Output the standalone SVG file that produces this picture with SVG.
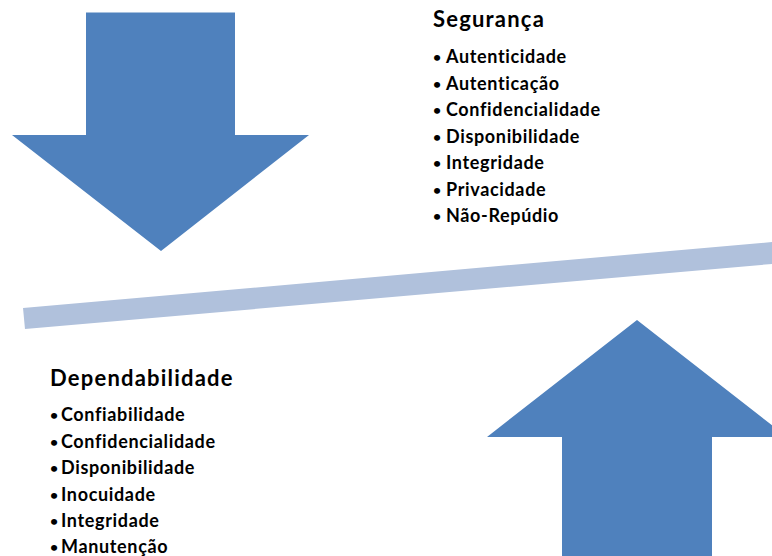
<svg xmlns="http://www.w3.org/2000/svg" width="772" height="556" viewBox="0 0 772 556">
<style>
.arrow{fill:#4F81BD}
.bar{fill:#B0C1DC}
.title{font-family:Lato,"Liberation Sans",sans-serif;font-weight:bold;font-size:22px;letter-spacing:1.2px;fill:#000;font-variant-ligatures:none}
.item{font-family:Lato,"Liberation Sans",sans-serif;font-weight:bold;font-size:18px;letter-spacing:0.65px;fill:#000;font-variant-ligatures:none}
.dot{font-size:14px}
</style>
<rect width="772" height="556" fill="#fff"/>
<g id="down-arrow">
<polygon class="arrow" points="86,12.5 235,12.5 235,135 309,135 161,251 12,135 86,135"/>
</g>
<g id="up-arrow">
<polygon class="arrow" points="637,320 787,437 712,437 712,556 562,556 562,437 487,437"/>
</g>
<g id="balance-bar">
<polygon class="bar" points="23,308 772,242 772,264 25,329"/>
</g>
<g id="seguranca">
<text class="title" x="433" y="27">Segurança</text>
<text class="item"><tspan class="dot" x="433" y="62">•</tspan><tspan x="446" y="63">Autenticidade</tspan></text>
<text class="item"><tspan class="dot" x="433" y="88.5">•</tspan><tspan x="446" y="89.5">Autenticação</tspan></text>
<text class="item"><tspan class="dot" x="433" y="115">•</tspan><tspan x="446" y="116">Confidencialidade</tspan></text>
<text class="item"><tspan class="dot" x="433" y="141.5">•</tspan><tspan x="446" y="142.5">Disponibilidade</tspan></text>
<text class="item"><tspan class="dot" x="433" y="168">•</tspan><tspan x="446" y="169">Integridade</tspan></text>
<text class="item"><tspan class="dot" x="433" y="194.5">•</tspan><tspan x="446" y="195.5">Privacidade</tspan></text>
<text class="item"><tspan class="dot" x="433" y="221">•</tspan><tspan x="446" y="222">Não-Repúdio</tspan></text>
</g>
<g id="dependabilidade">
<text class="title" x="50" y="386">Dependabilidade</text>
<text class="item"><tspan class="dot" x="50" y="420">•</tspan><tspan x="61" y="421">Confiabilidade</tspan></text>
<text class="item"><tspan class="dot" x="50" y="446.5">•</tspan><tspan x="61" y="447.5">Confidencialidade</tspan></text>
<text class="item"><tspan class="dot" x="50" y="473">•</tspan><tspan x="61" y="474">Disponibilidade</tspan></text>
<text class="item"><tspan class="dot" x="50" y="499.5">•</tspan><tspan x="61" y="500.5">Inocuidade</tspan></text>
<text class="item"><tspan class="dot" x="50" y="526">•</tspan><tspan x="61" y="527">Integridade</tspan></text>
<text class="item"><tspan class="dot" x="50" y="552">•</tspan><tspan x="61" y="553">Manutenção</tspan></text>
</g>
</svg>
